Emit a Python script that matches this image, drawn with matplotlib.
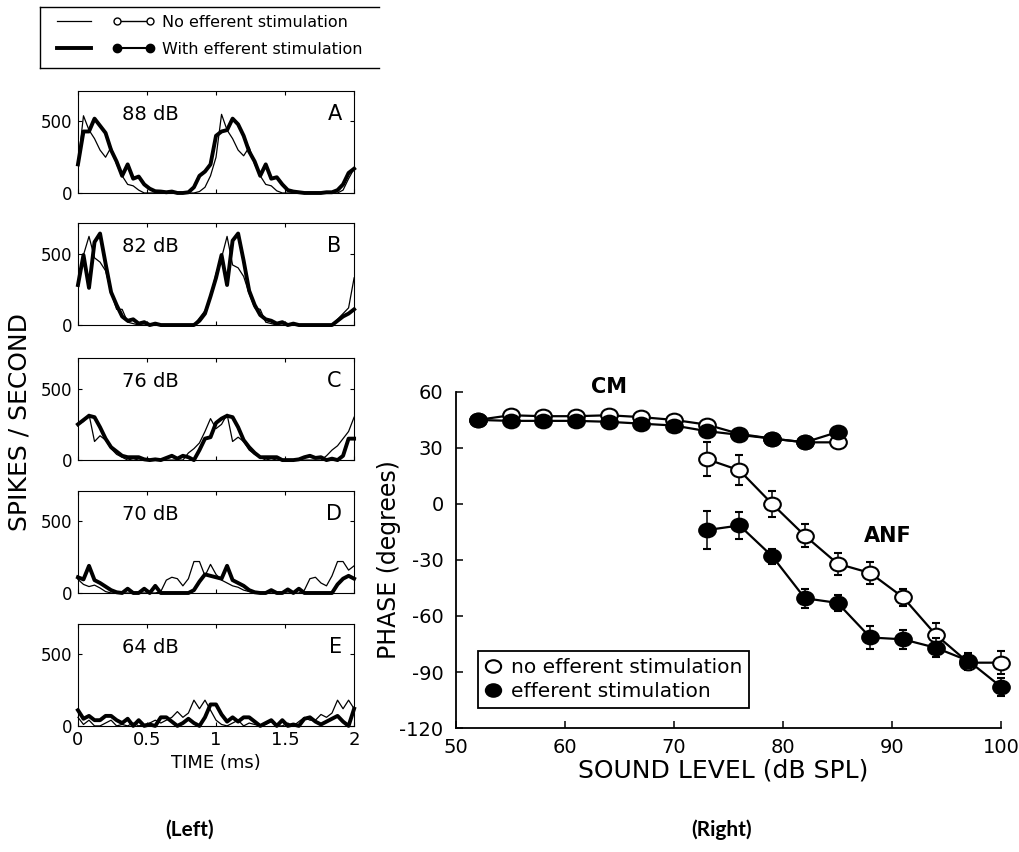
import matplotlib.pyplot as plt
import numpy as np
from matplotlib.lines import Line2D
from matplotlib.path import Path
from matplotlib.transforms import Affine2D

plt.rcParams['font.family'] = ['DejaVu Sans', 'Liberation Sans']
plt.rcParams['axes.unicode_minus'] = False

# ---------------- left: period histograms (spikes/s vs time) ----------------
t_ms = np.linspace(0, 2, 51)  # bin centres, 0.04 ms bins
panel_letters = ['A', 'B', 'C', 'D', 'E']
panel_levels = ['88 dB', '82 dB', '76 dB', '70 dB', '64 dB']

# no efferent stimulation (thin line)
a_no = [200, 540, 440, 380, 300, 250, 320, 200, 120, 60,
        50, 20, 0, 0, 0, 0, 0, 0, 0, 0,
        0, 0, 10, 40, 120, 250, 550, 440, 380, 300,
        260, 320, 200, 120, 60, 50, 15, 0, 0, 0,
        0, 0, 0, 0, 0, 0, 0, 0, 20, 100,
        170]
b_no = [270, 490, 620, 470, 440, 380, 230, 110, 110, 20,
        10, 0, 0, 0, 0, 0, 0, 0, 0, 0,
        0, 0, 50, 100, 200, 360, 470, 620, 420, 400,
        340, 220, 120, 110, 20, 10, 0, 0, 0, 0,
        0, 0, 0, 0, 0, 0, 0, 40, 80, 120,
        330]
c_no = [250, 270, 320, 130, 170, 140, 80, 40, 20, 0,
        10, 0, 0, 0, 0, 0, 0, 0, 0, 0,
        50, 80, 120, 200, 290, 220, 250, 320, 130, 160,
        130, 70, 40, 20, 0, 10, 0, 0, 0, 0,
        0, 0, 0, 0, 0, 30, 70, 100, 150, 200,
        300]
d_no = [95, 60, 45, 55, 35, 10, 0, 0, 0, 0,
        0, 0, 0, 0, 0, 10, 90, 110, 100, 50,
        100, 220, 220, 120, 200, 130, 90, 70, 50, 40,
        20, 10, 0, 0, 0, 0, 0, 0, 0, 0,
        0, 20, 100, 110, 70, 50, 120, 220, 220, 160,
        190]
e_no = [60, 10, 40, 0, 0, 20, 40, 0, 10, 0,
        20, 0, 10, 20, 40, 20, 40, 60, 100, 60,
        90, 180, 120, 180, 110, 40, 10, 0, 20, 40,
        0, 20, 10, 0, 10, 30, 0, 0, 20, 0,
        30, 60, 40, 40, 80, 60, 90, 180, 120, 180,
        120]

# with efferent stimulation (thick line)
a_eff = [200, 430, 430, 520, 470, 420, 300, 220, 120, 200,
         100, 115, 60, 30, 12, 10, 5, 10, 0, 0,
         5, 40, 120, 150, 200, 400, 430, 440, 520, 480,
         400, 290, 220, 120, 200, 100, 110, 60, 20, 10,
         5, 0, 0, 0, 0, 5, 5, 20, 60, 140,
         170]
b_eff = [280, 490, 260, 580, 640, 430, 230, 140, 60, 30,
         40, 10, 20, 0, 10, 0, 0, 0, 0, 0,
         0, 0, 30, 80, 200, 330, 490, 280, 590, 640,
         450, 240, 140, 70, 40, 30, 10, 20, 0, 10,
         0, 0, 0, 0, 0, 0, 0, 30, 60, 80,
         110]
c_eff = [250, 280, 310, 300, 230, 150, 90, 60, 30, 20,
         20, 20, 5, 0, 5, 0, 15, 30, 10, 30,
         20, 0, 70, 150, 160, 260, 290, 310, 300, 230,
         140, 90, 50, 20, 20, 20, 20, 0, 0, 0,
         5, 20, 30, 15, 20, 0, 10, 0, 30, 150,
         150]
d_eff = [110, 95, 190, 90, 70, 45, 20, 5, 0, 30,
         0, 0, 30, 0, 50, 0, 0, 0, 0, 0,
         0, 20, 80, 130, 120, 110, 100, 190, 90, 70,
         50, 20, 5, 0, 0, 20, 0, 0, 25, 0,
         30, 0, 0, 0, 0, 0, 0, 60, 100, 120,
         100]
e_eff = [110, 50, 70, 40, 40, 70, 70, 40, 20, 50,
         0, 40, 0, 10, 0, 60, 60, 30, 0, 20,
         50, 20, 0, 60, 150, 150, 80, 30, 60, 30,
         60, 60, 30, 0, 20, 40, 0, 40, 0, 10,
         0, 50, 60, 30, 10, 30, 50, 70, 30, 0,
         120]

rates_no = [a_no, b_no, c_no, d_no, e_no]
rates_eff = [a_eff, b_eff, c_eff, d_eff, e_eff]

# ---------------- right: phase vs sound level ----------------
levels_cm = [52, 55, 58, 61, 64, 67, 70, 73, 76, 79, 82, 85]
cm_no = [45, 47.5, 47, 47, 47.5, 46.5, 45, 42.5, 37.5, 35, 33, 33]
cm_eff = [45, 44.5, 44.5, 44.5, 44, 43, 42, 39, 37, 35, 33, 38.5]

levels_anf = [73, 76, 79, 82, 85, 88, 91, 94, 97, 100]
anf_no = [24, 18, 0, -17, -32, -37, -50, -70, -85, -85]
anf_no_err = [9, 8, 7, 6, 6, 6, 4.5, 6, 4, 6]
anf_eff = [-14, -11.5, -28, -50.5, -53, -71.5, -72.5, -77, -84, -98]
anf_eff_err = [10, 7, 4, 5, 4.5, 6, 5, 5, 4, 5]

fig = plt.figure(figsize=(10.19, 8.52), dpi=100)

bottoms = [0.7735, 0.6185, 0.460, 0.304, 0.148]
for i in range(5):
    ax = fig.add_axes([0.0765, bottoms[i], 0.271, 0.12])
    ax.plot(t_ms, rates_no[i], color='black', lw=0.9, clip_on=False)
    ax.plot(t_ms, rates_eff[i], color='black', lw=2.8, clip_on=False)
    ax.set_xlim(0, 2)
    ax.set_ylim(0, 715)
    ax.set_xticks([0, 0.5, 1, 1.5, 2])
    ax.set_yticks([0, 500])
    ax.tick_params(direction='in', top=True, right=True, length=3,
                   labelsize=12, pad=4)
    if i < 4:
        ax.set_xticklabels([])
    else:
        ax.set_xticklabels(['0', '0.5', '1', '1.5', '2'], fontsize=13)
        ax.set_xlabel('TIME (ms)', fontsize=13, labelpad=3)
    ax.text(0.16, 0.77, panel_levels[i], transform=ax.transAxes,
            fontsize=14, va='center')
    ax.text(0.955, 0.77, panel_letters[i], transform=ax.transAxes,
            fontsize=15, ha='right', va='center')

fig.text(0.019, 0.505, 'SPIKES / SECOND', rotation=90, fontsize=18,
         ha='center', va='center')

# top legend for the left panels (box open on the right, like the source)
thin_h = Line2D([], [], color='black', lw=0.9)
thick_h = Line2D([], [], color='black', lw=2.8)
open_h = Line2D([], [], color='black', lw=1, marker='o', ms=5,
                mfc='white', mec='black')
fill_h = Line2D([], [], color='black', lw=1.5, marker='o', ms=6,
                mfc='black', mec='black')
fig.legend(handles=[thin_h, thick_h, open_h, fill_h],
           labels=['', '', 'No efferent stimulation', 'With efferent stimulation'],
           ncol=2, loc='upper left', bbox_to_anchor=(0.045, 0.99),
           borderaxespad=0, frameon=False, fontsize=11.5, numpoints=2,
           handlelength=2.7, columnspacing=0.6, handletextpad=0.45,
           labelspacing=0.75)
for xs, ys in [([0.039, 0.372], [0.992, 0.992]),
               ([0.039, 0.372], [0.920, 0.920]),
               ([0.039, 0.039], [0.920, 0.992])]:
    fig.add_artist(Line2D(xs, ys, transform=fig.transFigure, color='black', lw=1))

# right plot
ell = Path.unit_circle().transformed(Affine2D().scale(1.22, 1.0))
ax2 = fig.add_axes([0.4475, 0.1455, 0.535, 0.3945])
common = dict(color='black', lw=1.6, marker=ell, ms=12, mec='black', mew=1.5)
ax2.plot(levels_cm, cm_no, mfc='white', zorder=3, clip_on=False, **common)
ax2.plot(levels_cm, cm_eff, mfc='black', zorder=4, clip_on=False, **common)
ax2.errorbar(levels_anf, anf_no, yerr=anf_no_err, mfc='white', capsize=3,
             elinewidth=1.1, capthick=1.1, ecolor='black', zorder=3,
             clip_on=False, **common)
ax2.errorbar(levels_anf, anf_eff, yerr=anf_eff_err, mfc='black', capsize=3,
             elinewidth=1.1, capthick=1.1, ecolor='black', zorder=4,
             clip_on=False, **common)

ax2.set_xlim(50, 100)
ax2.set_ylim(-120, 60)
ax2.set_xticks(np.arange(50, 101, 10))
ax2.set_yticks(np.arange(-120, 61, 30))
ax2.spines['top'].set_visible(False)
ax2.spines['right'].set_visible(False)
ax2.spines['left'].set_linewidth(1.3)
ax2.spines['bottom'].set_linewidth(1.3)
ax2.tick_params(direction='in', length=5, width=1.1, labelsize=14)
ax2.tick_params(axis='y', pad=9)
ax2.tick_params(axis='x', pad=7)
ax2.set_xlabel('SOUND LEVEL (dB SPL)', fontsize=18)
ax2.set_ylabel('PHASE (degrees)', fontsize=17)
ax2.xaxis.set_label_coords(0.49, -0.09)
ax2.yaxis.set_label_coords(-0.1, 0.5)

ax2.text(64, 62.5, 'CM', fontsize=15, fontweight='bold', ha='center',
         va='center', clip_on=False)
ax2.text(89.6, -17, 'ANF', fontsize=15, fontweight='bold', ha='center',
         va='center')

leg_open = Line2D([], [], ls='none', marker=ell, ms=11, mfc='white',
                  mec='black', mew=1.5)
leg_fill = Line2D([], [], ls='none', marker=ell, ms=11, mfc='black',
                  mec='black', mew=1.5)
leg = ax2.legend([leg_open, leg_fill],
                 ['no efferent stimulation', 'efferent stimulation'],
                 loc='lower left', bbox_to_anchor=(0.04, 0.06),
                 borderaxespad=0, fontsize=14.5, fancybox=False,
                 handlelength=0.8, handletextpad=0.5, labelspacing=0.25,
                 borderpad=0.35)
leg.get_frame().set_edgecolor('black')
leg.get_frame().set_linewidth(1.3)
leg.get_frame().set_alpha(1)

fig.text(190 / 1019, 1 - 830 / 852, '(Left)', fontsize=15, fontweight='bold',
         family=['Lato', 'DejaVu Sans'], ha='center', va='center')
fig.text(722 / 1019, 1 - 830 / 852, '(Right)', fontsize=15, fontweight='bold',
         family=['Lato', 'DejaVu Sans'], ha='center', va='center')

fig.savefig('out.png', dpi=100)
